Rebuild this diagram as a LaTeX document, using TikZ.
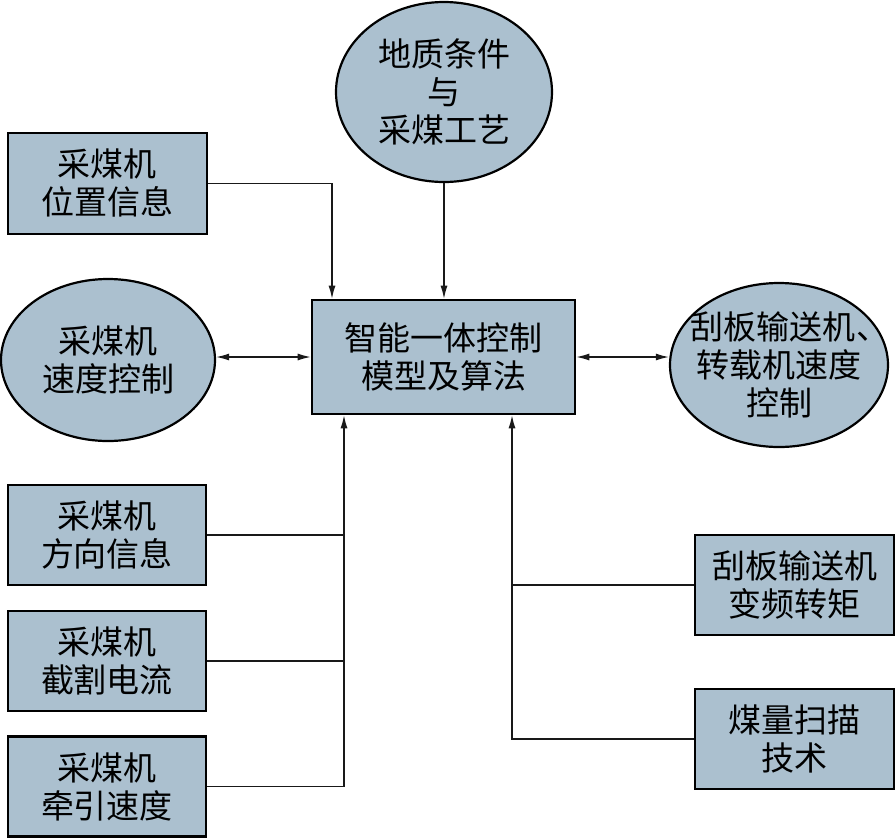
\documentclass[tikz,border=0pt]{standalone}
\usepackage{fontspec}
\newfontfamily\cjk{Noto Sans CJK SC}
\usetikzlibrary{shapes.geometric,arrows.meta}
\definecolor{fillblue}{RGB}{171,192,207}
\begin{document}
\begin{tikzpicture}[x=1pt,y=-1pt,
  every node/.style={font=\cjk\fontsize{33}{38}\selectfont,align=center,inner sep=0pt},
  boxnode/.style={draw=black,line width=2.6pt,fill=fillblue,minimum width=#1},
  ellnode/.style={ellipse,draw=black,line width=2.2pt,fill=fillblue,inner xsep=-45pt,inner ysep=-25pt},
  conn/.style={line width=1.3pt,draw=black!90},
  arr/.style={conn,-{Latex[length=13pt,width=7pt]}},
  arrb/.style={conn,{Latex[length=13pt,width=7pt]}-{Latex[length=13pt,width=7pt]}}]
\useasboundingbox (0,0) rectangle (895,839);
% nodes
\node[ellnode,minimum width=216,minimum height=180] (geo) at (444,92) {地质条件\\与\\采煤工艺};
\node[boxnode=199,minimum height=101] (pos) at (107.5,183.5) {采煤机\\位置信息};
\node[ellnode,minimum width=214,minimum height=162] (lspeed) at (108,360) {采煤机\\速度控制};
\node[ellnode,minimum width=218,minimum height=164] (rspeed) at (779,365) {\hspace*{-12pt}刮板输送机\rlap{\hspace{1pt}、}\\转载机速度\\控制};
\node[boxnode=263,minimum height=114] (ctrl) at (443.5,357) {智能一体控制\\模型及算法};
\node[boxnode=198,minimum height=100] (dir) at (107,535) {采煤机\\方向信息};
\node[boxnode=198,minimum height=100] (cut) at (107,661) {采煤机\\截割电流};
\node[boxnode=198,minimum height=100] (trac) at (107,786.5) {采煤机\\牵引速度};
\node[boxnode=199,minimum height=100] (torque) at (794.5,585) {刮板输送机\\变频转矩};
\node[boxnode=199,minimum height=100] (scan) at (794.5,739) {煤量扫描\\技术};
% junctions
\coordinate (jt) at ([xshift=-111.5]ctrl.north);
\coordinate (jl) at ([xshift=-99.5]ctrl.south);
\coordinate (jr) at ([xshift=68.5]ctrl.south);
% connectors
\draw[arr] (pos.east) -| (jt);
\draw[arr] (geo.south) -- (geo.south |- ctrl.north);
\draw[arrb] (lspeed.east |- ctrl.west) -- (ctrl.west);
\draw[arrb] (ctrl.east) -- (ctrl.east -| rspeed.west);
\draw[arr] (trac.east) -| (jl);
\draw[conn] (dir.east) -- (dir.east -| jl);
\draw[conn] (cut.east) -- (cut.east -| jl);
\draw[arr] (scan.west) -| (jr);
\draw[conn] (torque.west) -- (torque.west -| jr);
\end{tikzpicture}
\end{document}
